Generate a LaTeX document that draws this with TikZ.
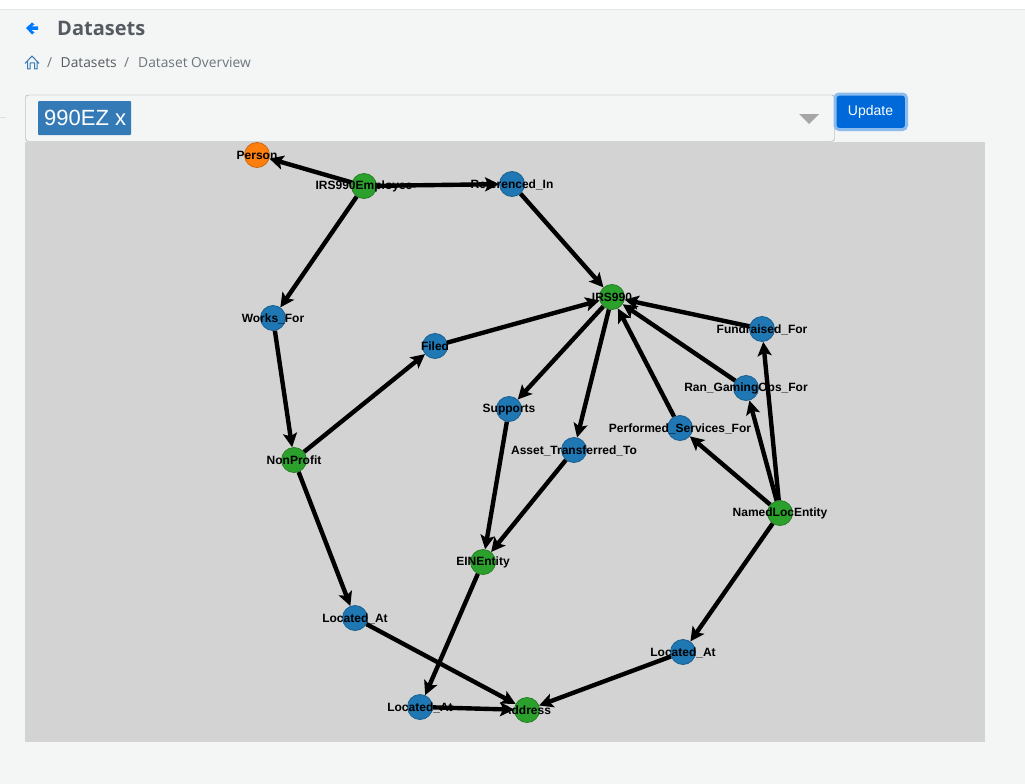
\documentclass[tikz,border=0pt]{standalone}
\usepackage{fontspec}
\setmainfont{Liberation Sans}
\newfontfamily\uifont{Open Sans}
\usetikzlibrary{arrows.meta}
\definecolor{pagebg}{HTML}{F4F6F6}
\definecolor{plotbg}{HTML}{D3D3D3}
\definecolor{nodeblue}{HTML}{1F77B4}
\definecolor{nodegreen}{HTML}{2CA02C}
\definecolor{nodeorange}{HTML}{FF7F0E}
\definecolor{uiblue}{HTML}{0069D9}
\definecolor{linkblue}{HTML}{007BFF}
\definecolor{tagblue}{HTML}{337AB7}
\definecolor{uitext}{HTML}{555B60}
\definecolor{crumbtext}{HTML}{6C757D}
\tikzset{
  dsnode/.style={circle,minimum size=25pt,inner sep=0pt,line width=0.8pt},
  entity/.style={dsnode,fill=nodegreen,draw=nodegreen!80!black},
  relation/.style={dsnode,fill=nodeblue,draw=nodeblue!80!black},
  person/.style={dsnode,fill=nodeorange,draw=nodeorange!80!black},
  link/.style={line width=4.4pt,-{Stealth[length=14pt,width=14pt,inset=3pt]},black},
  lbl/.style={font=\fontsize{12pt}{12pt}\selectfont\bfseries,inner sep=0pt,text=black,yshift=-0.5pt},
  uilabel/.style={font=\uifont,inner sep=0pt,anchor=west},
}
\begin{document}
\begin{tikzpicture}[x=1pt,y=-1pt]
\useasboundingbox (0,0) rectangle (1025,784);
\fill[pagebg] (0,0) rectangle (1025,784);
\fill[white] (0,0) rectangle (1025,9);
\draw[black!10] (0,9.5) -- (1025,9.5);
% left edge of the page
\draw[black!12] (0,117.5) -- (6,117.5);
\fill[black!4] (0,133) rectangle (5,181);
% page heading
\fill[linkblue] (26,28) -- (32,22.5) -- (34.5,24.5) -- (31.5,26.5) -- (38,26.5) -- (38,30) -- (31.5,30) -- (34.5,32.5) -- (32,34.5) -- cycle;
\node[uilabel,text=uitext,font=\uifont\fontsize{20pt}{22pt}\selectfont\bfseries] (title) at (57,28.5) {Datasets};
\draw[tagblue,line width=1pt,line join=round] (25,63.5) -- (32,56) -- (39,63.5) (27.5,61) -- (27.5,69) -- (30,69) -- (30,63) -- (34.5,63) -- (34.5,69) -- (37,69) -- (37,61);
\node[uilabel,text=crumbtext,font=\uifont\fontsize{13.8pt}{15pt}\selectfont] (slashone) at (47,63) {/};
\node[uilabel,text=uitext,font=\uifont\fontsize{13.8pt}{15pt}\selectfont] (crumbone) at (60.5,63) {Datasets};
\node[uilabel,text=crumbtext,font=\uifont\fontsize{13.8pt}{15pt}\selectfont] (slashtwo) at (124,63) {/};
\node[uilabel,text=crumbtext,font=\uifont\fontsize{13.8pt}{15pt}\selectfont] (crumbtwo) at (138,63) {Dataset Overview};
% selector
\draw[black!40,fill=pagebg,rounded corners=3pt] (25.5,95) rectangle (834.5,141.5);
\fill[tagblue,rounded corners=1pt] (38,101) rectangle (131,135);
\node[inner sep=0pt,anchor=west,text=white,font=\fontsize{22pt}{24pt}\selectfont] (tag) at (44,118) {990EZ x};
\fill[black!35] (799,114) -- (819,114) -- (809,124) -- cycle;
\draw[uiblue!45!white,fill=uiblue,line width=3pt,rounded corners=4pt] (835,94) rectangle (906.5,129.5);
\node[inner sep=0pt,text=white,font=\fontsize{14pt}{16pt}\selectfont] (update) at (870.5,111.5) {Update};
% plot area
\fill[plotbg] (25,142) rectangle (985,742);
% nodes
\node[person] (person) at (257,155) {};
\node[entity] (employee) at (364,186) {};
\node[relation] (referenced) at (512,184) {};
\node[entity] (irs) at (612,297) {};
\node[relation] (works) at (273,318) {};
\node[relation] (filed) at (435,346) {};
\node[relation] (fundraised) at (762,329) {};
\node[relation] (gaming) at (746,388) {};
\node[relation] (supports) at (509,409) {};
\node[relation] (performed) at (680,428) {};
\node[relation] (asset) at (574,450) {};
\node[entity] (nonprofit) at (294,460) {};
\node[entity] (named) at (780,513) {};
\node[entity] (ein) at (483,562) {};
\node[relation] (locatedone) at (355,618) {};
\node[relation] (locatedtwo) at (683,652) {};
\node[relation] (locatedthree) at (420,707) {};
\node[entity] (address) at (527,710) {};
% edges
\draw[link] (employee) -- (person);
\draw[link] (employee) -- (referenced);
\draw[link] (employee) -- (works);
\draw[link] (referenced) -- (irs);
\draw[link] (works) -- (nonprofit);
\draw[link] (nonprofit) -- (filed);
\draw[link] (nonprofit) -- (locatedone);
\draw[link] (filed) -- (irs);
\draw[link] (fundraised) -- (irs);
\draw[link] (gaming) -- (irs);
\draw[link] (performed) -- (irs);
\draw[link] (irs) -- (supports);
\draw[link] (irs) -- (asset);
\draw[link] (supports) -- (ein);
\draw[link] (asset) -- (ein);
\draw[link] (named) -- (fundraised);
\draw[link] (named) -- (gaming);
\draw[link] (named) -- (performed);
\draw[link] (named) -- (locatedtwo);
\draw[link] (ein) -- (locatedthree);
\draw[link] (locatedone) -- (address);
\draw[link] (locatedtwo) -- (address);
\draw[link] (locatedthree) -- (address);
% labels
\node[lbl] (personlbl) at (person) {Person};
\node[lbl] (employeelbl) at (employee) {IRS990Employee};
\node[lbl] (referencedlbl) at (referenced) {Referenced\_In};
\node[lbl] (irslbl) at (irs) {IRS990};
\node[lbl] (workslbl) at (works) {Works\_For};
\node[lbl] (filedlbl) at (filed) {Filed};
\node[lbl] (fundraisedlbl) at (fundraised) {Fundraised\_For};
\node[lbl] (gaminglbl) at (gaming) {Ran\_GamingOps\_For};
\node[lbl] (supportslbl) at (supports) {Supports};
\node[lbl] (performedlbl) at (performed) {Performed\_Services\_For};
\node[lbl] (assetlbl) at (asset) {Asset\_Transferred\_To};
\node[lbl] (nonprofitlbl) at (nonprofit) {NonProfit};
\node[lbl] (namedlbl) at (named) {NamedLocEntity};
\node[lbl] (einlbl) at (ein) {EINEntity};
\node[lbl] (locatedonelbl) at (locatedone) {Located\_At};
\node[lbl] (locatedtwolbl) at (locatedtwo) {Located\_At};
\node[lbl] (locatedthreelbl) at (locatedthree) {Located\_At};
\node[lbl] (addresslbl) at (address) {Address};
\end{tikzpicture}
\end{document}
